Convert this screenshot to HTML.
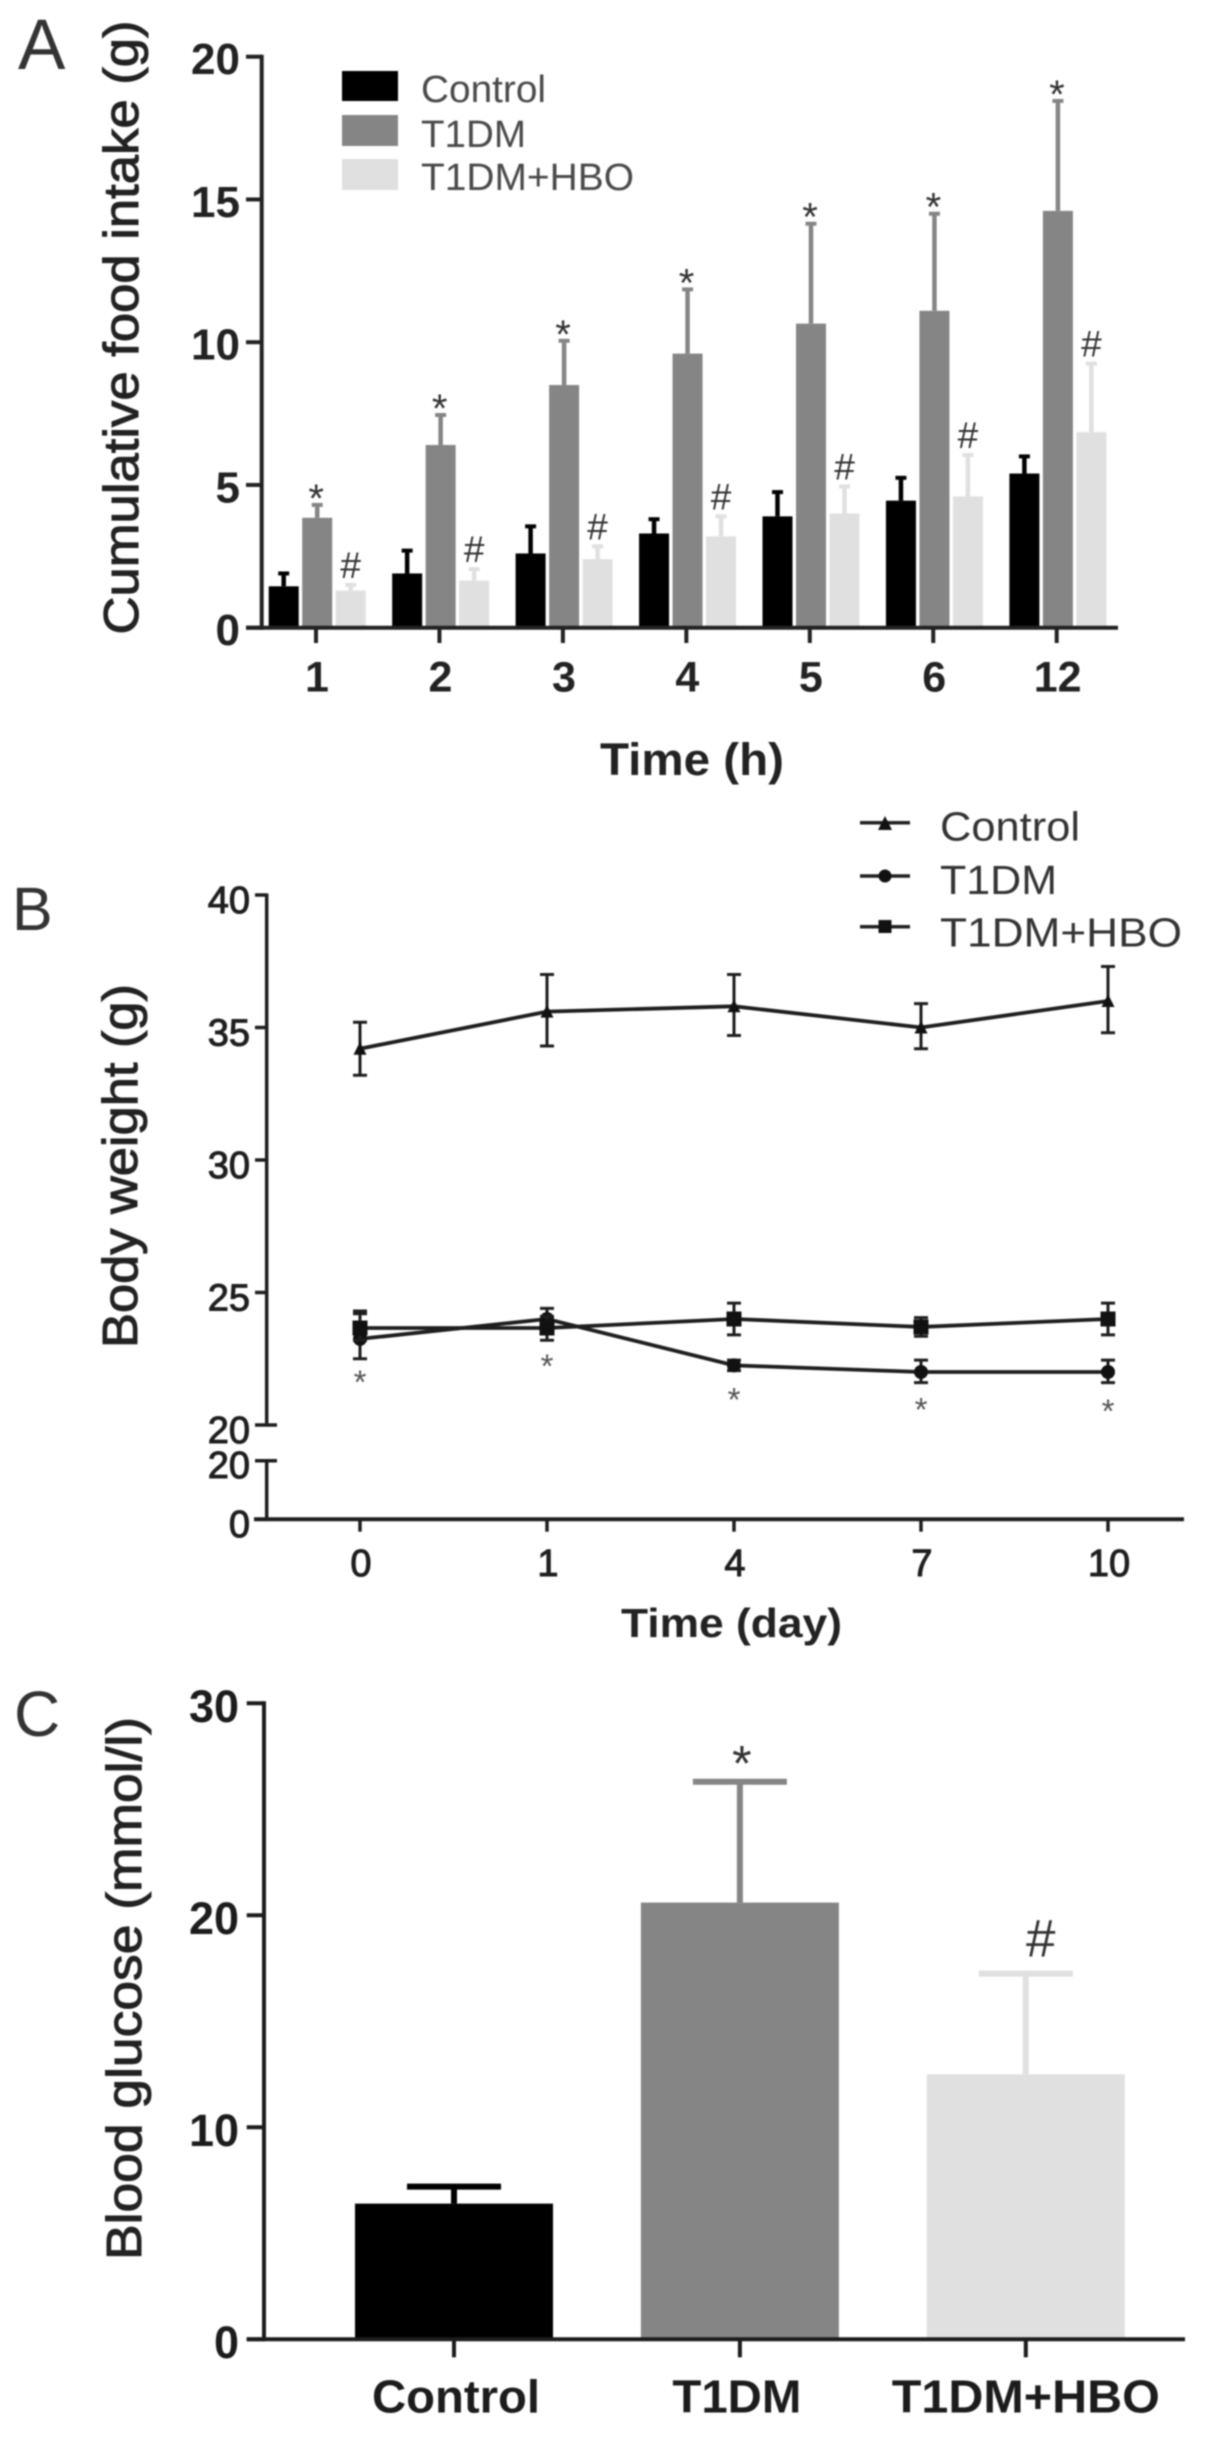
<!DOCTYPE html>
<html lang="en">
<head>
<meta charset="utf-8">
<title>Cumulative food intake, body weight and blood glucose</title>
<style>
html,body{margin:0;padding:0;background:#fff;}
body{width:1205px;height:2439px;overflow:hidden;}
svg{display:block;filter:blur(0.7px);}
text{font-family:"Liberation Sans",sans-serif;}
</style>
</head>
<body>
<svg id="figure" width="1205" height="2439" viewBox="0 0 1205 2439" xmlns="http://www.w3.org/2000/svg">
  <rect width="1205" height="2439" fill="#fff"/>

  <text x="18" y="69" font-size="71" fill="#333">A</text>
  <text x="12" y="930" font-size="61" fill="#333">B</text>
  <text x="14" y="1736" font-size="64" fill="#333">C</text>

  <text x="138" y="634.5" transform="rotate(-90 138 634.5)" font-size="49" fill="#222" stroke="#222" stroke-width="1" textLength="614" lengthAdjust="spacingAndGlyphs">Cumulative food intake (g)</text>
  <text x="600" y="775" font-size="45" font-weight="bold" fill="#222" textLength="184" lengthAdjust="spacingAndGlyphs">Time (h)</text>

  <g>
    <rect x="342" y="71" width="56" height="30" fill="#000"/>
    <rect x="342" y="115" width="56" height="31" fill="#858585"/>
    <rect x="342" y="159" width="56" height="31" fill="#e0e0e0"/>
    <text x="421" y="102" font-size="38" fill="#4a4a4a" textLength="125" lengthAdjust="spacingAndGlyphs">Control</text>
    <text x="421" y="147" font-size="38" fill="#4a4a4a" textLength="105" lengthAdjust="spacingAndGlyphs">T1DM</text>
    <text x="421" y="190" font-size="38" fill="#4a4a4a" textLength="213" lengthAdjust="spacingAndGlyphs">T1DM+HBO</text>
  </g>

  <text x="137" y="1348" transform="rotate(-90 137 1348)" font-size="49" fill="#222" stroke="#222" stroke-width="1" textLength="364" lengthAdjust="spacingAndGlyphs">Body weight (g)</text>
  <text x="621" y="1637" font-size="41" font-weight="bold" fill="#222" textLength="221" lengthAdjust="spacingAndGlyphs">Time (day)</text>

  <g>
    <text x="940" y="840.5" font-size="41" fill="#333" textLength="140" lengthAdjust="spacingAndGlyphs">Control</text>
    <text x="940" y="894" font-size="41" fill="#333" textLength="117" lengthAdjust="spacingAndGlyphs">T1DM</text>
    <text x="940" y="946.5" font-size="41" fill="#333" textLength="242" lengthAdjust="spacingAndGlyphs">T1DM+HBO</text>
    <line x1="860" x2="910" y1="822.7" y2="822.7" stroke="#222" stroke-width="3.5"/>
    <polygon points="885,816 892,830 878,830" fill="#111"/>
    <line x1="860" x2="910" y1="876" y2="876" stroke="#222" stroke-width="3.5"/>
    <circle cx="885" cy="876" r="6.5" fill="#111"/>
    <line x1="860" x2="910" y1="926.7" y2="926.7" stroke="#222" stroke-width="3.5"/>
    <rect x="878.5" y="920" width="13" height="13" fill="#111"/>
  </g>

  <text x="141" y="2260" transform="rotate(-90 141 2260)" font-size="49" fill="#222" stroke="#222" stroke-width="1" textLength="543" lengthAdjust="spacingAndGlyphs">Blood glucose (mmol/l)</text>

  <g id="panelA"></g>
  <g id="panelB"></g>
  <g id="panelC"></g>
</svg>

<script>
// Panel A data
const aHours = ['1', '2', '3', '4', '5', '6', '12'];
const aTicks = [0, 5, 10, 15, 20];
const aControl = [1.45, 1.9, 2.6, 3.3, 3.9, 4.45, 5.4];
const aControlTop = [1.9, 2.7, 3.55, 3.8, 4.75, 5.25, 6.0];
const aT1dm = [3.85, 6.4, 8.5, 9.6, 10.65, 11.1, 14.6];
const aT1dmTop = [4.3, 7.45, 10.05, 11.85, 14.15, 14.5, 18.45];
const aHbo = [1.3, 1.65, 2.4, 3.2, 4.0, 4.6, 6.85];
const aHboTop = [1.5, 2.05, 2.85, 3.9, 4.95, 6.05, 9.25];

// Panel B data
const bDays = ['0', '1', '4', '7', '10'];
const bUpperTicks = [20, 25, 30, 35, 40];
const bLowerTicks = [0, 20];
const bControl = [34.2, 35.6, 35.8, 35.0, 36.0];
const bControlHigh = [35.2, 37.0, 37.0, 35.9, 37.3];
const bControlLow = [33.2, 34.3, 34.7, 34.2, 34.8];
const bT1dm = [23.25, 24.0, 22.25, 22.0, 22.0];
const bT1dmHigh = [24.3, 24.4, 22.45, 22.45, 22.45];
const bT1dmLow = [22.5, 23.5, 22.05, 21.6, 21.6];
const bHbo = [23.66, 23.66, 24.0, 23.7, 24.0];
const bHboHigh = [24.2, 24.1, 24.6, 24.05, 24.6];
const bHboLow = [23.2, 23.2, 23.4, 23.35, 23.4];
const bStarLevels = [21.8, 22.4, 21.14, 20.75, 20.69];

// Panel C data
const cGroups = ['Control', 'T1DM', 'T1DM+HBO'];
const cTicks = [0, 10, 20, 30];
const cMeans = [6.4, 20.6, 12.5];
const cTops = [7.2, 26.3, 17.25];
const cMarks = ['', '*', '#'];

const NS = 'http://www.w3.org/2000/svg';
function add(parent, tag, attrs, txt) {
  const el = document.createElementNS(NS, tag);
  for (const k in attrs) el.setAttribute(k, attrs[k]);
  if (txt !== undefined) el.textContent = txt;
  parent.appendChild(el);
  return el;
}
function noInteract(el, name) {
  
  
  return el;
}

/* ---------- Panel A ---------- */
(function () {
  const g = document.getElementById('panelA');
  const ink = '#222';
  const y = v => 627.7 - v * 28.55;
  const x = i => 316 + i * 123.45;
  const colors = ['#000', '#858585', '#e0e0e0'];
  const means = [aControl, aT1dm, aHbo];
  const tops = [aControlTop, aT1dmTop, aHboTop];
  const names = ['control', 't1dm', 't1dm-hbo'];
  means.forEach((series, s) => {
    series.forEach((v, i) => {
      const cx = x(i) + 1.2 + (s - 1) * 33.5;
      const bar = add(g, 'rect', { x: cx - 15, y: y(v), width: 30, height: y(0) - y(v), fill: colors[s] });
      noInteract(bar, 'bar-' + names[s] + '-' + aHours[i] + 'h');
      const stem = add(g, 'line', { x1: cx, x2: cx, y1: y(v), y2: y(tops[s][i]), stroke: colors[s], 'stroke-width': 4.5 });
      noInteract(stem, 'error-bar-' + names[s] + '-' + aHours[i] + 'h');
      const cap = add(g, 'line', { x1: cx - 5.5, x2: cx + 5.5, y1: y(tops[s][i]), y2: y(tops[s][i]), stroke: colors[s], 'stroke-width': 4 });
      noInteract(cap, 'error-cap-' + names[s] + '-' + aHours[i] + 'h');
      if (s === 1) {
        const star = add(g, 'text', { x: cx - 1, y: y(tops[s][i]) + 7, 'font-size': 40, 'text-anchor': 'middle', fill: '#333' }, '*');
        noInteract(star, 'significance-star-' + aHours[i] + 'h');
      }
      if (s === 2) {
        const hash = add(g, 'text', { x: cx, y: y(tops[s][i]) - 7, 'font-size': 37, 'text-anchor': 'middle', fill: '#333' }, '#');
        noInteract(hash, 'significance-hash-' + aHours[i] + 'h');
      }
    });
  });
  const yAxis = add(g, 'line', { x1: 261.7, x2: 261.7, y1: y(20) - 2, y2: y(0) + 2, stroke: ink, 'stroke-width': 4 });
  noInteract(yAxis, 'panel-a-y-axis');
  const xAxis = add(g, 'line', { x1: 246, x2: 1118, y1: y(0), y2: y(0), stroke: ink, 'stroke-width': 4 });
  noInteract(xAxis, 'panel-a-x-axis');
  aTicks.forEach(t => {
    const tick = add(g, 'line', { x1: 246, x2: 261.7, y1: y(t), y2: y(t), stroke: ink, 'stroke-width': 4 });
    noInteract(tick, 'panel-a-y-tick-' + t);
    const lab = add(g, 'text', { x: 240, y: y(t) + 17.5, 'font-size': 44, 'font-weight': 'bold', 'text-anchor': 'end', fill: ink }, String(t));
    noInteract(lab, 'panel-a-y-tick-label-' + t);
  });
  aHours.forEach((h, i) => {
    const tick = add(g, 'line', { x1: x(i), x2: x(i), y1: y(0), y2: 643, stroke: ink, 'stroke-width': 4 });
    noInteract(tick, 'panel-a-x-tick-' + h);
    const lab = add(g, 'text', { x: x(i) + 1, y: 691.5, 'font-size': 43, 'font-weight': 'bold', 'text-anchor': 'middle', fill: ink }, h);
    noInteract(lab, 'panel-a-x-tick-label-' + h);
  });
})();

/* ---------- Panel B ---------- */
(function () {
  const g = document.getElementById('panelB');
  const ink = '#1e1e1e';
  const yU = v => 1425 - (v - 20) * 26.5;
  const yL = v => 1519.3 - v * 2.93;
  const x = i => 360 + i * 187;
  const series = [
    { name: 'control', m: bControl, hi: bControlHigh, lo: bControlLow },
    { name: 't1dm', m: bT1dm, hi: bT1dmHigh, lo: bT1dmLow },
    { name: 't1dm-hbo', m: bHbo, hi: bHboHigh, lo: bHboLow }
  ];
  series.forEach(s => {
    const pts = s.m.map((v, i) => x(i) + ',' + yU(v)).join(' ');
    const line = add(g, 'polyline', { points: pts, fill: 'none', stroke: ink, 'stroke-width': 3.8 });
    noInteract(line, 'line-' + s.name);
    s.m.forEach((v, i) => {
      const whisker = add(g, 'path', {
        d: 'M' + (x(i) - 7) + ' ' + yU(s.hi[i]) + 'H' + (x(i) + 7) + 'M' + x(i) + ' ' + yU(s.hi[i]) + 'V' + yU(s.lo[i]) + 'M' + (x(i) - 7) + ' ' + yU(s.lo[i]) + 'H' + (x(i) + 7),
        fill: 'none', stroke: ink, 'stroke-width': 3
      });
      noInteract(whisker, 'error-bar-' + s.name + '-day-' + bDays[i]);
      let mk;
      if (s.name === 'control') {
        mk = add(g, 'polygon', { points: x(i) + ',' + (yU(v) - 7) + ' ' + (x(i) + 6.5) + ',' + (yU(v) + 6) + ' ' + (x(i) - 6.5) + ',' + (yU(v) + 6), fill: '#111' });
      } else if (s.name === 't1dm') {
        mk = add(g, 'circle', { cx: x(i), cy: yU(v), r: 7, fill: '#111' });
      } else {
        mk = add(g, 'rect', { x: x(i) - 7.5, y: yU(v) - 7.5, width: 15, height: 15, fill: '#111' });
      }
      noInteract(mk, 'marker-' + s.name + '-day-' + bDays[i]);
    });
  });
  bStarLevels.forEach((v, i) => {
    const star = add(g, 'text', { x: x(i), y: yU(v) + 16, 'font-size': 33, 'text-anchor': 'middle', fill: '#555' }, '*');
    noInteract(star, 'significance-star-day-' + bDays[i]);
  });
  const upper = add(g, 'line', { x1: 266.7, x2: 266.7, y1: yU(40) - 1.5, y2: yU(20), stroke: ink, 'stroke-width': 3.5 });
  noInteract(upper, 'panel-b-y-axis-upper');
  const lower = add(g, 'line', { x1: 266.7, x2: 266.7, y1: yL(20), y2: yL(0), stroke: ink, 'stroke-width': 3.5 });
  noInteract(lower, 'panel-b-y-axis-lower');
  const xAxis = add(g, 'line', { x1: 254, x2: 1184, y1: yL(0), y2: yL(0), stroke: ink, 'stroke-width': 4 });
  noInteract(xAxis, 'panel-b-x-axis');
  bUpperTicks.forEach(t => {
    const tick = add(g, 'line', { x1: 255, x2: t === 20 ? 277 : 266.7, y1: yU(t), y2: yU(t), stroke: ink, 'stroke-width': 3.5 });
    noInteract(tick, 'panel-b-y-tick-upper-' + t);
    const lab = add(g, 'text', { x: 250, y: yU(t) + 18, 'font-size': 38, 'text-anchor': 'end', fill: ink, stroke: ink, 'stroke-width': 1 }, String(t));
    noInteract(lab, 'panel-b-y-tick-label-upper-' + t);
  });
  bLowerTicks.forEach(t => {
    const tick = add(g, 'line', { x1: 255, x2: t === 20 ? 277 : 266.7, y1: yL(t), y2: yL(t), stroke: ink, 'stroke-width': 3.5 });
    noInteract(tick, 'panel-b-y-tick-lower-' + t);
    const lab = add(g, 'text', { x: 250, y: yL(t) + 17.5, 'font-size': 38, 'text-anchor': 'end', fill: ink, stroke: ink, 'stroke-width': 1 }, String(t));
    noInteract(lab, 'panel-b-y-tick-label-lower-' + t);
  });
  bDays.forEach((d, i) => {
    const tick = add(g, 'line', { x1: x(i), x2: x(i), y1: yL(0), y2: 1531.7, stroke: ink, 'stroke-width': 3.5 });
    noInteract(tick, 'panel-b-x-tick-' + d);
    const lab = add(g, 'text', { x: x(i) + 1, y: 1576, 'font-size': 38, 'text-anchor': 'middle', fill: ink, stroke: ink, 'stroke-width': 1 }, d);
    noInteract(lab, 'panel-b-x-tick-label-' + d);
  });
})();

/* ---------- Panel C ---------- */
(function () {
  const g = document.getElementById('panelC');
  const ink = '#1c1c1c';
  const y = v => 2339.3 - v * 21.2;
  const x = i => 454 + i * 285.9;
  const colors = ['#000', '#858585', '#e0e0e0'];
  const keys = ['control', 't1dm', 't1dm-hbo'];
  const labelWidths = [168, 129, 268];
  const labelNudge = [2, -3, 0];
  cMeans.forEach((v, i) => {
    const bar = add(g, 'rect', { x: x(i) - 99, y: y(v), width: 198, height: y(0) - y(v), fill: colors[i] });
    noInteract(bar, 'bar-' + keys[i]);
    const stem = add(g, 'line', { x1: x(i), x2: x(i), y1: y(v), y2: y(cTops[i]), stroke: colors[i], 'stroke-width': 6 });
    noInteract(stem, 'error-bar-' + keys[i]);
    const cap = add(g, 'line', { x1: x(i) - 47, x2: x(i) + 47, y1: y(cTops[i]), y2: y(cTops[i]), stroke: colors[i], 'stroke-width': 6 });
    noInteract(cap, 'error-cap-' + keys[i]);
    if (cMarks[i] === '*') {
      const star = add(g, 'text', { x: x(i) + 2, y: y(cTops[i]) - 1, 'font-size': 50, 'text-anchor': 'middle', fill: '#333' }, '*');
      noInteract(star, 'significance-star-' + keys[i]);
    }
    if (cMarks[i] === '#') {
      const hash = add(g, 'text', { x: x(i) + 15, y: y(cTops[i]) - 17, 'font-size': 53, 'text-anchor': 'middle', fill: '#333' }, '#');
      noInteract(hash, 'significance-hash-' + keys[i]);
    }
    const tick = add(g, 'line', { x1: x(i), x2: x(i), y1: y(0), y2: 2357.3, stroke: ink, 'stroke-width': 4 });
    noInteract(tick, 'panel-c-x-tick-' + keys[i]);
    const lab = add(g, 'text', { x: x(i) + labelNudge[i], y: 2412.3, 'font-size': 46, 'font-weight': 'bold', 'text-anchor': 'middle', fill: ink, textLength: labelWidths[i], lengthAdjust: 'spacingAndGlyphs' }, cGroups[i]);
    noInteract(lab, 'panel-c-x-tick-label-' + keys[i]);
  });
  const yAxis = add(g, 'line', { x1: 264, x2: 264, y1: y(30) - 2, y2: y(0) + 2, stroke: ink, 'stroke-width': 4 });
  noInteract(yAxis, 'panel-c-y-axis');
  const xAxis = add(g, 'line', { x1: 246.7, x2: 1185, y1: y(0), y2: y(0), stroke: ink, 'stroke-width': 4 });
  noInteract(xAxis, 'panel-c-x-axis');
  cTicks.forEach(t => {
    const tick = add(g, 'line', { x1: 246.7, x2: 264, y1: y(t), y2: y(t), stroke: ink, 'stroke-width': 4 });
    noInteract(tick, 'panel-c-y-tick-' + t);
    const lab = add(g, 'text', { x: 239, y: y(t) + 18.5, 'font-size': 45, 'font-weight': 'bold', 'text-anchor': 'end', fill: ink }, String(t));
    noInteract(lab, 'panel-c-y-tick-label-' + t);
  });
})();
</script>
</body>
</html>
